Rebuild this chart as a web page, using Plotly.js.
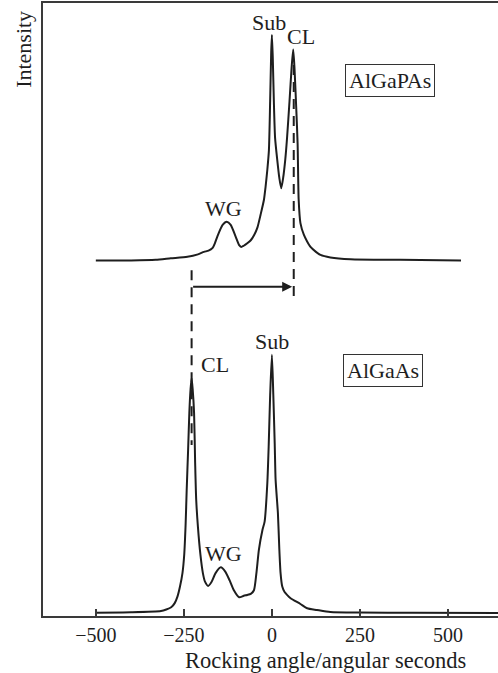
<!DOCTYPE html>
<html>
<head>
<meta charset="utf-8">
<script src="https://cdn.plot.ly/plotly-3.0.1.min.js"></script>
<style>html,body{margin:0;padding:0;background:#fff;}#chart{width:498px;height:673px;}</style>
</head>
<body>
<div id="chart"></div>
<script>
// Upper curve: AlGaPAs rocking curve (angle in arcsec, intensity a.u.)
var algapasAngle = [-500,-400,-330,-287,-240,-210,-193,-180,-169,-162,-155,-140,-128,-117,-103,-93,-87,-80,-70,-60,-50,-41,-32,-22.6,-18,-13,-8.5,-5,-2,0,2.5,5.5,9,15,21,26.5,32,38,43,50,56,60.5,64,69,73,76,81,90.6,100,109.6,125,138,166,223,364,537];
var algapasInt   = [0.580,0.580,0.581,0.5835,0.586,0.590,0.594,0.596,0.600,0.608,0.619,0.638,0.643,0.638,0.619,0.605,0.602,0.604,0.608,0.613,0.622,0.634,0.655,0.679,0.700,0.728,0.760,0.840,0.920,0.948,0.910,0.840,0.780,0.745,0.715,0.698,0.715,0.745,0.780,0.840,0.895,0.924,0.895,0.830,0.770,0.679,0.641,0.622,0.611,0.602,0.594,0.589,0.585,0.582,0.581,0.580];

// Lower curve: AlGaAs rocking curve
var algaasAngle = [-500,-400,-315,-300,-286,-276,-268,-261,-254,-249,-245,-242,-238,-234.5,-231,-228,-225,-221,-218,-215,-210,-203,-196,-190,-181,-172,-160,-145,-132,-120,-108,-93,-80,-70,-60,-51,-44,-37,-27,-20.7,-13,-9,-5,0,4,8,10.5,17,21,24.6,29.4,36,43.6,53,81,100,128,166,250,400,642];
var algaasInt   = [0.0054,0.006,0.008,0.0105,0.0142,0.021,0.032,0.048,0.070,0.100,0.150,0.205,0.270,0.331,0.370,0.388,0.370,0.331,0.250,0.190,0.145,0.100,0.070,0.056,0.049,0.055,0.070,0.0794,0.072,0.058,0.042,0.0305,0.033,0.0343,0.036,0.042,0.070,0.108,0.140,0.154,0.217,0.280,0.360,0.426,0.360,0.280,0.222,0.168,0.110,0.070,0.048,0.039,0.034,0.029,0.0196,0.0126,0.0098,0.0065,0.0056,0.0054,0.005];

// Shift between the two cladding-layer peaks
var clLower = -228, clUpper = 60.5;
var xTicks = [-500,-250,0,250,500];
var xTickText = ['\u2212500','\u2212250','0','250','500'];

var lineCol = '#1e1e1e';
var axisCol = '#3a3a3a';
var serif = 'Liberation Serif, Times New Roman, serif';

var traces = [
  {x: algapasAngle, y: algapasInt, mode: 'lines', line: {color: lineCol, width: 2, shape: 'spline', smoothing: 0.6}, hoverinfo: 'skip'},
  {x: algaasAngle, y: algaasInt, mode: 'lines', line: {color: lineCol, width: 2, shape: 'spline', smoothing: 0.6}, hoverinfo: 'skip'}
];

function lab(text, x, y, extra) {
  var a = {text: text, x: x, y: y, xref: 'x', yref: 'y', showarrow: false,
           font: {family: serif, size: 22, color: '#1e1e1e'}, xanchor: 'center', yanchor: 'middle'};
  for (var k in extra) a[k] = extra[k];
  return a;
}

var layout = {
  width: 498, height: 673,
  margin: {l: 43, r: 0, t: 3, b: 57},
  paper_bgcolor: '#fff', plot_bgcolor: '#fff',
  showlegend: false,
  xaxis: {range: [-650, 642], tickvals: xTicks, ticktext: xTickText, ticks: 'inside', ticklen: 7, tickwidth: 1.5, tickcolor: axisCol,
          showline: true, linecolor: axisCol, linewidth: 2, mirror: true, showgrid: false, zeroline: false,
          tickfont: {family: serif, size: 20, color: '#1e1e1e'}, fixedrange: true},
  yaxis: {range: [0, 1], showticklabels: false, ticks: '', showline: true, linecolor: axisCol, linewidth: 2, mirror: false,
          showgrid: false, zeroline: false, fixedrange: true},
  shapes: [
    {type: 'line', xref: 'x', yref: 'y', x0: clLower, x1: clLower, y0: 0.564, y1: 0.279, line: {color: lineCol, width: 2, dash: '10px,7px'}},
    {type: 'line', xref: 'x', yref: 'y', x0: clUpper + 1.5, x1: clUpper + 1.5, y0: 0.899, y1: 0.515, line: {color: lineCol, width: 2, dash: '10px,7px'}}
  ],
  annotations: [
    {x: clUpper - 3, y: 0.537, ax: clLower, ay: 0.537, xref: 'x', yref: 'y', axref: 'x', ayref: 'y', text: '', showarrow: true,
     arrowhead: 2, arrowsize: 1, arrowwidth: 2, arrowcolor: lineCol},
    lab('Sub', -9.3, 0.968),
    lab('CL', 84, 0.945),
    lab('AlGaPAs', 335, 0.874, {bordercolor: '#333', borderwidth: 1, borderpad: 3}),
    lab('WG', -137, 0.664),
    lab('CL', -162, 0.410),
    lab('Sub', -1, 0.447),
    lab('AlGaAs', 316, 0.400, {bordercolor: '#333', borderwidth: 1, borderpad: 3}),
    lab('WG', -137, 0.102),
    {text: 'Intensity', xref: 'paper', yref: 'paper', x: -0.042, y: 0.925, textangle: -90, showarrow: false,
     font: {family: serif, size: 22, color: '#1e1e1e'}, xanchor: 'center', yanchor: 'middle'},
    {text: 'Rocking angle/angular seconds', xref: 'paper', yref: 'paper', x: 0.62, y: -0.072, showarrow: false,
     font: {family: serif, size: 22.5, color: '#1e1e1e'}, xanchor: 'center', yanchor: 'middle'}
  ]
};

Plotly.newPlot('chart', traces, layout, {staticPlot: true, displayModeBar: false});
</script>
</body>
</html>
